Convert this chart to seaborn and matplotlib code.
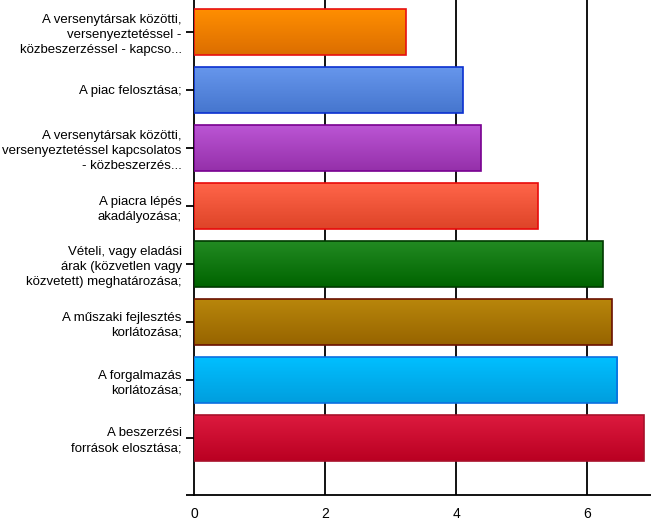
import numpy as np
import pandas as pd
import matplotlib
matplotlib.use("Agg")
import matplotlib.pyplot as plt
import matplotlib.colors as mcolors
import seaborn as sns

categories = [
    "A versenytársak közötti,\nversenyeztetéssel -\nközbeszerzéssel - kapcso...",
    "A piac felosztása;",
    "A versenytársak közötti,\nversenyeztetéssel kapcsolatos\n- közbeszerzés...",
    "A piacra lépés\nakadályozása;",
    "Vételi, vagy eladási\nárak (közvetlen vagy\nközvetett) meghatározása;",
    "A műszaki fejlesztés\nkorlátozása;",
    "A forgalmazás\nkorlátozása;",
    "A beszerzési\nforrások elosztása;",
]
values = [3.23, 4.10, 4.37, 5.24, 6.235, 6.37, 6.46, 6.86]
top_colors = ["#FF8E00", "#6696EC", "#BB55D4", "#FF6549", "#228A22", "#B8860B", "#00BFFF", "#DC1A3E"]
bottom_colors = ["#DC6E00", "#4676CE", "#9530AA", "#DE4428", "#006400", "#976400", "#009EDE", "#BA0022"]
edge_colors = ["#E81010", "#0A30D0", "#780090", "#E80A0A", "#003A00", "#6A1000", "#0A70E0", "#A8102A"]
xticks = [0, 2, 4, 6]

sns.set_theme(style="white")
plt.rcParams['font.family'] = ['Liberation Sans', 'DejaVu Sans']

fig = plt.figure(figsize=(6.51, 5.19), dpi=100)
ax = fig.add_axes([194.3 / 651, 24 / 519, 1 - 194.3 / 651, 1 - 24 / 519])

df = pd.DataFrame({"cat": categories, "val": values})
sns.barplot(data=df, y="cat", x="val", hue="cat", palette=top_colors,
            legend=False, orient="h", width=0.79, ax=ax, zorder=3,
            saturation=1)

for p, c1, c2, ec in zip(ax.patches, top_colors, bottom_colors, edge_colors):
    p.set_edgecolor(ec)
    p.set_linewidth(1.2)
    x0, y0 = p.get_x(), p.get_y()
    w, h = p.get_width(), p.get_height()
    cmap = mcolors.LinearSegmentedColormap.from_list("g", [c1, c2])
    grad = np.linspace(0, 1, 64).reshape(-1, 1)
    im = ax.imshow(grad, cmap=cmap, aspect="auto",
                   extent=(x0, x0 + w, y0 + h, y0), origin="upper",
                   zorder=3.5, interpolation="bilinear")
    im.set_clip_path(p)
    p.set_facecolor("none")
    p.set_zorder(4)

ax.set_xlim(0, 6.972)
ax.set_ylim(7 + 57 / 58, -32 / 58)
ax.set_xticks(xticks)
ax.set_xticklabels([str(t) for t in xticks])
ax.set_xlabel("")
ax.set_ylabel("")

ax.grid(False)
for t in xticks[1:]:
    ax.axvline(t, color="black", lw=1.3, zorder=1)

for s in ["top", "right"]:
    ax.spines[s].set_visible(False)
for s in ["left", "bottom"]:
    ax.spines[s].set_color("black")
    ax.spines[s].set_linewidth(1.3)

ax.tick_params(axis="y", which="both", left=True, length=6, width=1.3,
               color="black", pad=3, labelsize=9.5, labelcolor="black")
ax.tick_params(axis="x", bottom=False, pad=2.5, labelsize=10, labelcolor="black")
ax.set_yticks([7 + 57 / 58], minor=True)

for lab in ax.get_yticklabels():
    lab.set_multialignment("right")
    lab.set_linespacing(1.35)

fig.savefig("out.png", dpi=100)
